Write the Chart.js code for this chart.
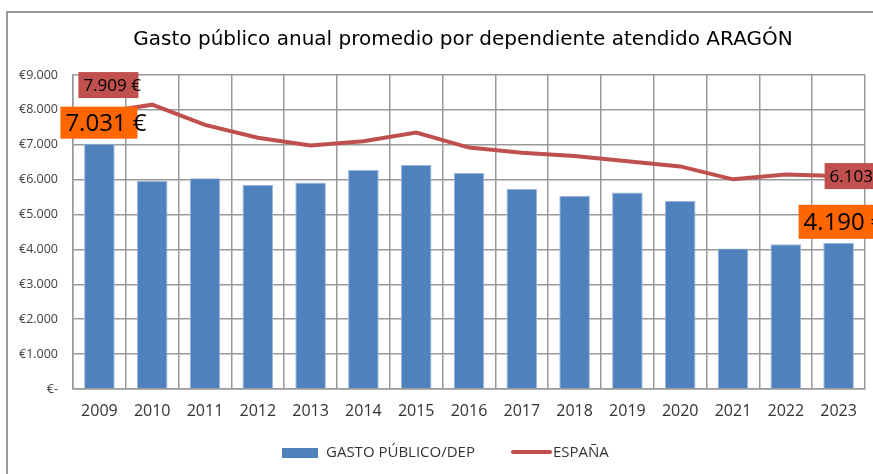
<!DOCTYPE html>
<html>
<head>
<meta charset="utf-8">
<script src="https://cdn.jsdelivr.net/npm/chart.js@4"></script>
<style>
  html, body { margin: 0; padding: 0; background: #fff; }
  #wrap { position: relative; width: 873px; height: 474px; overflow: hidden; }
  #frame { position: absolute; left: 6px; top: 11px; width: 900px; height: 500px;
           border-left: 2px solid #9a9a9a; border-top: 2px solid #9a9a9a; }
  canvas { position: absolute; left: 0; top: 0; }
</style>
</head>
<body>
<div id="wrap">
  <div id="frame"></div>
  <canvas id="chart" width="873" height="474"></canvas>
</div>
<script>
// Data
const years = ["2009", "2010", "2011", "2012", "2013", "2014", "2015", "2016", "2017", "2018", "2019", "2020", "2021", "2022", "2023"];
const gastoDep = [7031, 5960, 6040, 5850, 5920, 6280, 6420, 6190, 5740, 5540, 5630, 5390, 4030, 4150, 4190];
const espana = [7909, 8150, 7570, 7200, 6980, 7100, 7350, 6920, 6770, 6680, 6530, 6380, 6010, 6150, 6103];
const yTicks = [0, 1000, 2000, 3000, 4000, 5000, 6000, 7000, 8000, 9000];

const fmt = (v) => v.toLocaleString("de-DE");

// Boxed labels on first and last values
const labelPlugin = {
  id: "valueBoxes",
  afterDatasetsDraw(chart) {
    const ctx = chart.ctx;
    const boxes = [
      // dataset, index, bg, font, dx, dy (box left/top relative to the point), box size
      { ds: 1, i: 0, bg: "#C0504D", font: "17px 'Open Sans'", dx: -21, dy: -41, w: 60, h: 26 },
      { ds: 0, i: 0, bg: "#FF6600", font: "24px 'Open Sans'", dx: -39, dy: -37, w: 77, h: 32 },
      { ds: 1, i: 14, bg: "#C0504D", font: "17px 'Open Sans'", dx: -14, dy: -13, w: 60, h: 26 },
      { ds: 0, i: 14, bg: "#FF6600", font: "24px 'Open Sans'", dx: -40, dy: -38, w: 77, h: 34 },
    ];
    ctx.save();
    boxes.forEach((b) => {
      const el = chart.getDatasetMeta(b.ds).data[b.i];
      const value = chart.data.datasets[b.ds].data[b.i];
      const text = fmt(value) + " €";
      const x = el.x + b.dx;
      const y = el.y + b.dy;
      ctx.fillStyle = b.bg;
      ctx.fillRect(x, y, b.w, b.h);
      ctx.font = b.font;
      ctx.fillStyle = "#000";
      ctx.textAlign = "left";
      ctx.textBaseline = "middle";
      ctx.fillText(text, x + 5, y + b.h / 2 + 1);
    });
    ctx.restore();
  },
  afterDraw(chart) {
    const ctx = chart.ctx;
    const bar = chart.data.datasets[0];
    const line = chart.data.datasets[1];
    ctx.save();
    // title
    ctx.fillStyle = "#000";
    ctx.font = "20px 'DejaVu Sans'";
    ctx.textAlign = "center";
    ctx.textBaseline = "middle";
    ctx.fillText("Gasto público anual promedio por dependiente atendido ARAGÓN", 463, 40);
    // legend
    ctx.font = "15px 'Open Sans'";
    ctx.textAlign = "left";
    ctx.fillStyle = bar.backgroundColor;
    ctx.fillRect(282, 448, 36, 10);
    ctx.fillStyle = "#333";
    ctx.fillText(bar.label, 326, 453);
    ctx.strokeStyle = line.borderColor;
    ctx.lineWidth = 4;
    ctx.lineCap = "round";
    ctx.beginPath();
    ctx.moveTo(513, 452);
    ctx.lineTo(550, 452);
    ctx.stroke();
    ctx.fillText(line.label, 553, 453);
    ctx.restore();
  },
};

new Chart(document.getElementById("chart"), {
  data: {
    labels: years,
    datasets: [
      {
        type: "bar",
        label: "GASTO PÚBLICO/DEP",
        data: gastoDep,
        backgroundColor: "#4F81BD",
        borderColor: "#9DB7DB",
        borderWidth: { top: 1, left: 1, right: 1, bottom: 0 },
        barPercentage: 0.58,
        categoryPercentage: 1,
        order: 1,
      },
      {
        type: "line",
        label: "ESPAÑA",
        data: espana,
        borderColor: "#C0504D",
        borderWidth: 4,
        pointRadius: 0,
        tension: 0,
        order: 0,
      },
    ],
  },
  options: {
    responsive: false,
    animation: false,
    layout: { padding: { left: 0, right: 8, top: 75, bottom: 45 } },
    plugins: { legend: { display: false }, title: { display: false }, tooltip: { enabled: false } },
    scales: {
      x: {
        grid: { color: "#999", lineWidth: 1.5, drawTicks: false, offset: true },
        border: { color: "#999", width: 1.5 },
        ticks: { color: "#333", font: { family: "Open Sans", size: 16 }, padding: 13 },
        afterFit(scale) { scale.height = 40; },
      },
      y: {
        min: 0,
        max: 9000,
        afterBuildTicks(scale) { scale.ticks = yTicks.map((v) => ({ value: v })); },
        grid: { color: "#999", lineWidth: 1.5, drawTicks: false },
        border: { color: "#999", width: 1.5 },
        ticks: {
          color: "#404040",
          font: { family: "Open Sans", size: 12.5 },
          padding: 15,
          callback: (v) => (v === 0 ? "€-" : "€" + fmt(v)),
        },
        afterFit(scale) { scale.width = 73; },
      },
    },
  },
  plugins: [labelPlugin],
});
</script>
</body>
</html>
